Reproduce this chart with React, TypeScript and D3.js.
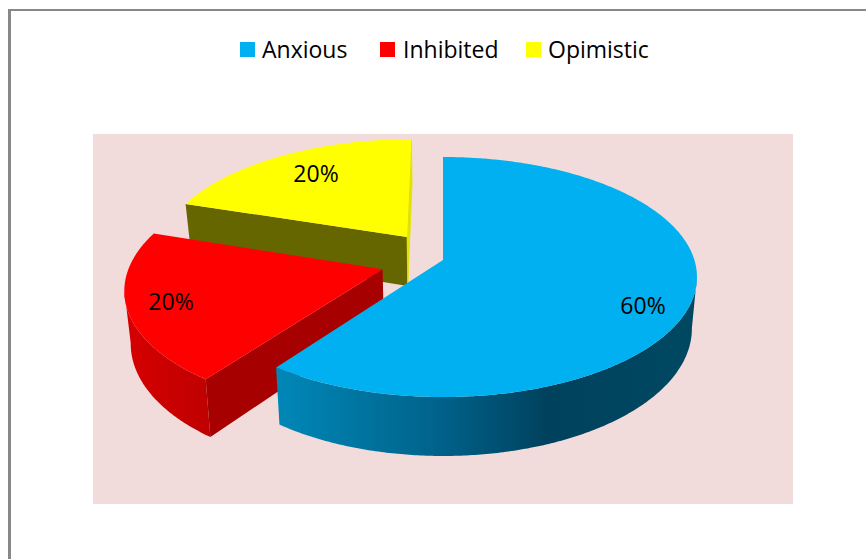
import React from "react";
import * as d3 from "d3";

const categories = ["Anxious", "Inhibited", "Opimistic"];
const shares = [60, 20, 20];
const labels = ["60%", "20%", "20%"];
const topColors = ["#00b0f0", "#ff0000", "#ffff00"];

const W = 866, H = 559;
// projection of a unit-radius pie plane, with perspective
const cx = 443, cy = 260, a = 251.4, b = 117.6, k = 0.1417, depth = 50.6, shrink = 0.98;
const EXPLODE = 0.25;

type P = [number, number];
const project = (theta: number, r: number, off: number, mid: number, low: boolean): P => {
  const X = r * Math.sin(theta) + off * Math.sin(mid);
  const Y = -r * Math.cos(theta) - off * Math.cos(mid);
  const w = 1 - k * Y;
  const x = (a * X) / w;
  const y = (b * Y) / w;
  return low ? [cx + x * shrink, cy + y + depth / w] : [cx + x, cy + y];
};

const line = d3.line<P>();
const samples = (from: number, to: number) => {
  const n = Math.max(2, Math.ceil(Math.abs(to - from) / 0.01));
  return d3.range(n + 1).map((i) => from + ((to - from) * i) / n);
};

const slices = d3.pie<number>().sort(null).startAngle(0).endAngle(2 * Math.PI)(shares);
const color = d3.scaleOrdinal<string, string>().domain(categories).range(topColors);

const legendSwatchX = [240, 380, 526];
const legendTextX = [262, 403, 548];
const labelPos: P[] = [[643, 306], [171, 302], [316, 174]];

function geo(i: number) {
  const s = slices[i];
  const mid = (s.startAngle + s.endAngle) / 2;
  const off = i === 0 ? 0 : EXPLODE;
  const top = (t: number, r = 1) => project(t, r, off, mid, false);
  const low = (t: number, r = 1) => project(t, r, off, mid, true);
  const face = line([top(0, 0), ...samples(s.startAngle, s.endAngle).map((t) => top(t))])! + "Z";
  const outer = (from: number, to: number) =>
    line([...samples(from, to).map((t) => top(t)), ...samples(to, from).map((t) => low(t))])! + "Z";
  const cut = (t: number) => line([top(0, 0), top(t), low(t), low(0, 0)])! + "Z";
  // angle at which the rim is at its horizontal extreme: where the wall's silhouette starts
  const extreme = (pick: (x: number) => number) =>
    samples(s.startAngle, s.endAngle).reduce((best, t) => (pick(top(t)[0]) > pick(top(best)[0]) ? t : best), s.startAngle);
  return { s, face, outer, cut, extreme };
}

export default function App() {
  const [blue, red, yellow] = [geo(0), geo(1), geo(2)];
  return (
    <svg width={W} height={H} style={{ position: "fixed", left: 0, top: 0 }}
      fontFamily="'Open Sans', sans-serif">
      <defs>
        <linearGradient id="blueWall" gradientUnits="userSpaceOnUse" x1={275} x2={697} y1={0} y2={0}>
          <stop offset="0" stopColor="#0088b8" />
          <stop offset="0.39" stopColor="#00628a" />
          <stop offset="0.64" stopColor="#00425e" />
          <stop offset="1" stopColor="#004862" />
        </linearGradient>
        <linearGradient id="redWall" gradientUnits="userSpaceOnUse" x1={123} x2={208} y1={0} y2={0}>
          <stop offset="0" stopColor="#d60000" />
          <stop offset="1" stopColor="#c00000" />
        </linearGradient>
      </defs>
      <rect width={W} height={H} fill="#fff" />
      <rect x={8} y={9} width={3} height={H - 9} fill="#888" />
      <rect x={8} y={9} width={W - 8} height={2} fill="#888" />
      <rect x={93} y={134} width={700} height={370} fill="#f2dcdb" />

      {/* Opimistic */}
      <path d={yellow.cut(yellow.s.startAngle)} fill="#666600" />
      <path d={yellow.cut(yellow.s.endAngle)} fill="#e2e200" stroke="#e2e200" strokeWidth={0.8} />
      <path d={yellow.face} fill={color(categories[2])} />

      {/* Inhibited */}
      <path d={red.outer(red.s.startAngle, red.extreme((x) => -x))} fill="url(#redWall)" />
      <path d={red.cut(red.s.startAngle)} fill="#a60000" />
      <path d={red.face} fill={color(categories[1])} />

      {/* Anxious */}
      <path d={blue.outer(blue.extreme((x) => x), blue.s.endAngle)} fill="url(#blueWall)" />
      <path d={blue.face} fill={color(categories[0])} />

      {categories.map((c, i) => (
        <g key={c}>
          <rect x={legendSwatchX[i]} y={42} width={15} height={15} fill={color(c)} />
          <text x={legendTextX[i]} y={58} fontSize={23} fill="#000">{c}</text>
        </g>
      ))}
      {labels.map((l, i) => (
        <text key={i} x={labelPos[i][0]} y={labelPos[i][1] + 8} fontSize={23} fill="#000" textAnchor="middle">{l}</text>
      ))}
    </svg>
  );
}
